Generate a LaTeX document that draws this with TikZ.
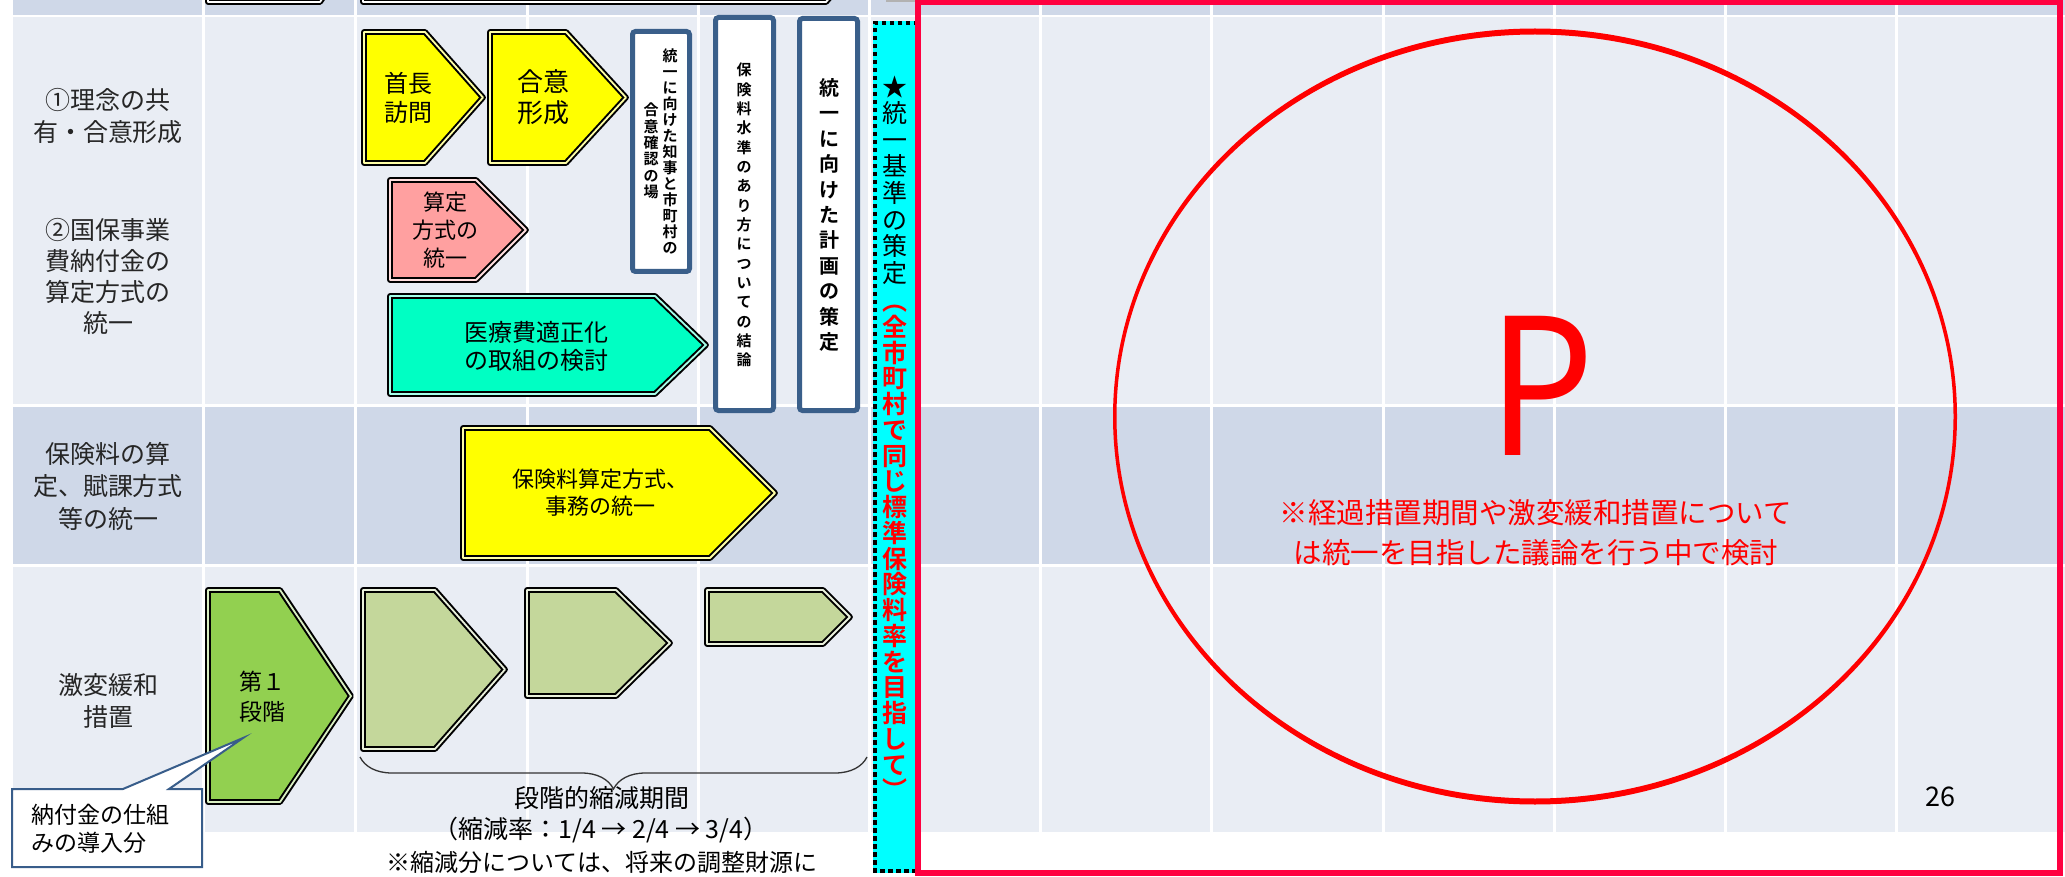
\documentclass[tikz,border=0pt]{standalone}
\usepackage{fontspec}
\setmainfont{Noto Sans CJK JP}[BoldFont={Noto Sans CJK JP Bold}]
\usetikzlibrary{decorations.pathreplacing}
\definecolor{rowdark}{RGB}{207,216,232}
\definecolor{rowlight}{RGB}{233,237,244}
\definecolor{vblue}{RGB}{58,95,138}
\definecolor{cyanbox}{RGB}{0,255,255}
\definecolor{redrect}{RGB}{255,0,64}
\definecolor{chyellow}{RGB}{255,255,0}
\definecolor{chpink}{RGB}{255,160,160}
\definecolor{chaqua}{RGB}{0,255,195}
\definecolor{chgreen}{RGB}{146,208,80}
\definecolor{cholive}{RGB}{196,215,155}
\definecolor{callblue}{RGB}{56,93,138}
\begin{document}
\begin{tikzpicture}[x=1pt,y=-1pt,
  chev/.style={draw=black, line width=2pt, double distance=1.8pt, line join=round},
  vbox/.style={draw=vblue, line width=5pt, fill=white, rounded corners=3pt},
  lbl/.style={align=center, inner sep=0pt, text=black!85},
  ctext/.style={align=center, inner sep=0pt, text=black},
  vt/.style={align=center, inner sep=0pt, text=black}]
\clip (0,0) rectangle (2065,877);
\fill[white] (0,0) rectangle (2065,877);
% table rows
\fill[rowdark] (13,0) rectangle (2065,15.5);
\fill[rowlight] (13,17.5) rectangle (2065,404);
\fill[rowdark] (13,406.5) rectangle (2065,564);
\fill[rowlight] (13,566.5) rectangle (2065,832);
\foreach \x in {203.5,355.5,527,698,869,1040,1211.5,1383,1554,1725,1896.5}
  \draw[white, line width=3pt] (\x,0) -- (\x,832);
% partial shapes of the row above
\draw[chev, fill=gray!6, double=white] (208,-20) -- (208,2) -- (320,2) -- (335,-20);
\draw[chev, fill=gray!6, double=white] (363,-20) -- (363,2) -- (826,2) -- (845,-20);
\fill[gray!60] (886,0) rectangle (915,2.5);
% row 1 chevrons
\draw[chev, fill=chyellow, double=chyellow!35!white] (364,32) -- (425,32) -- (483,97.5) -- (425,163) -- (364,163) -- cycle;
\draw[chev, fill=chyellow, double=chyellow!35!white] (490,32) -- (566,32) -- (626,97.5) -- (566,163) -- (490,163) -- cycle;
\draw[chev, fill=chpink, double=chpink!35!white] (390,180) -- (476,180) -- (526,230) -- (476,280) -- (390,280) -- cycle;
\draw[chev, fill=chaqua, double=chaqua!35!white] (390,296) -- (655,296) -- (706,345) -- (655,394) -- (390,394) -- cycle;
% row 2 chevron
\draw[chev, fill=chyellow, double=chyellow!35!white] (463,428) -- (710,428) -- (775,493) -- (710,558) -- (463,558) -- cycle;
% row 3 chevrons
\draw[chev, fill=chgreen, double=chgreen!35!white] (208,590) -- (280,590) -- (351,696) -- (280,802) -- (208,802) -- cycle;
\draw[chev, fill=cholive, double=cholive!35!white] (363,590) -- (435,590) -- (505,669.5) -- (435,749) -- (363,749) -- cycle;
\draw[chev, fill=cholive, double=cholive!35!white] (527,590) -- (616,590) -- (670,643) -- (616,696) -- (527,696) -- cycle;
\draw[chev, fill=cholive, double=cholive!35!white] (707,590) -- (823,590) -- (850,617) -- (823,644) -- (707,644) -- cycle;
% vertical white boxes
\draw[vbox] (632.5,31.5) rectangle (689.5,271.5);
\draw[vbox] (715.5,17.5) rectangle (773.5,410.5);
\draw[vbox] (799.5,18.5) rectangle (857.5,410.5);
% cyan dotted box
\fill[cyanbox] (873,21) rectangle (918,873);
\draw[black, line width=4pt, dash pattern=on 4.5pt off 3.5pt] (918,23) -- (875,23) -- (875,871) -- (918,871);
% red frame and ellipse (stroke thicker at top and bottom)
\draw[redrect, line width=6pt] (918,2.5) rectangle (2060,872.5);
\fill[red, even odd rule] (1535,416.5) ellipse [x radius=422pt, y radius=388pt]
  (1535,416.5) ellipse [x radius=418.5pt, y radius=382pt];
% brace
\coordinate (braceL) at (360,757);
\coordinate (braceR) at (867,757);
\draw[decorate, decoration={brace, mirror, amplitude=32pt}, line width=1.3pt, black!80] (braceL) -- (braceR);
% callout
\draw[callblue, line width=2pt, fill=white] (12,789) -- (123,789) -- (243,738) -- (169,789) -- (202,789) -- (202,867) -- (12,867) -- cycle;
\node[anchor=west, align=left, inner sep=0pt, font=\fontsize{23}{28}\selectfont] (ct) at (31,829) {納付金の仕組\\みの導入分};
% row labels
\node[lbl, font=\fontsize{25}{32}\selectfont] (lab1) at (108,116) {①理念の共\\有・合意形成};
\node[lbl, font=\fontsize{25}{31}\selectfont] (lab2) at (108,276.5) {②国保事業\\費納付金の\\算定方式の\\統一};
\node[lbl, font=\fontsize{25}{32.5}\selectfont] (lab3) at (108,486) {保険料の算\\定、賦課方式\\等の統一};
\node[lbl, font=\fontsize{25}{32}\selectfont] (lab4) at (108,701) {激変緩和\\措置};
% chevron texts
\node[ctext, font=\fontsize{24}{29}\selectfont] (t1) at (408,97.5) {首長\\訪問};
\node[ctext, font=\fontsize{26}{31}\selectfont] (t2) at (543,97.5) {合意\\形成};
\node[ctext, font=\fontsize{22}{28}\selectfont] (t3) at (445,230) {算定\\方式の\\統一};
\node[ctext, font=\fontsize{24}{28}\selectfont] (t4) at (536,346) {医療費適正化\\の取組の検討};
\node[ctext, font=\fontsize{22}{27}\selectfont] (t5) at (600,493) {保険料算定方式、\\事務の統一};
\node[ctext, font=\fontsize{23}{30}\selectfont] (t6) at (262,697) {第１\\段階};
% texts under the brace
\node[ctext, font=\fontsize{25}{32}\selectfont] (s1) at (602,798) {段階的縮減期間};
\node[ctext, font=\fontsize{25}{32}\selectfont] (s2) at (601,830) {（縮減率：1/4 → 2/4 → 3/4）};
\node[ctext, font=\fontsize{24}{32}\selectfont] (s3) at (602,862) {※縮減分については、将来の調整財源に};
% vertical texts
\node[vt, font={\lineskiplimit=-50pt\bfseries\fontsize{15}{16}\selectfont}] (a1) at (670,151) {統\\一\\に\\向\\け\\た\\知\\事\\と\\市\\町\\村\\の};
\node[vt, font={\lineskiplimit=-50pt\bfseries\fontsize{15}{16.4}\selectfont}] (a2) at (651,151) {合\\意\\確\\認\\の\\場};
\node[vt, font={\lineskiplimit=-50pt\bfseries\fontsize{15}{19.33}\selectfont}] (b1) at (744,215) {保\\険\\料\\水\\準\\の\\あ\\り\\方\\に\\つ\\い\\て\\の\\結\\論};
\node[vt, font={\lineskiplimit=-50pt\bfseries\fontsize{20}{25.4}\selectfont}] (c1) at (829,215) {統\\一\\に\\向\\け\\た\\計\\画\\の\\策\\定};
\node[vt, font={\lineskiplimit=-50pt\fontsize{25}{26.6}\selectfont}] (d1) at (895,180) {★\\統\\一\\基\\準\\の\\策\\定};
\node[vt, text=red, font={\lineskiplimit=-50pt\bfseries\fontsize{25}{25.75}\selectfont}] (d2) at (895,552.5) {︵\\全\\市\\町\\村\\で\\同\\じ\\標\\準\\保\\険\\料\\率\\を\\目\\指\\し\\て\\︶};
% right panel texts
\node[anchor=base, inner sep=0pt, text=red, font=\fontsize{190}{190}\selectfont] (pmark) at (1541,455) {\scalebox{0.88}[1]{P}};
\node[align=center, inner sep=0pt, text=red, font=\fontsize{28.5}{40}\selectfont] (note) at (1536,533) {※経過措置期間や激変緩和措置について\\は統一を目指した議論を行う中で検討};
\node[inner sep=0pt, font=\fontsize{27}{27}\selectfont] (pg) at (1940,797) {26};
\end{tikzpicture}
\end{document}
